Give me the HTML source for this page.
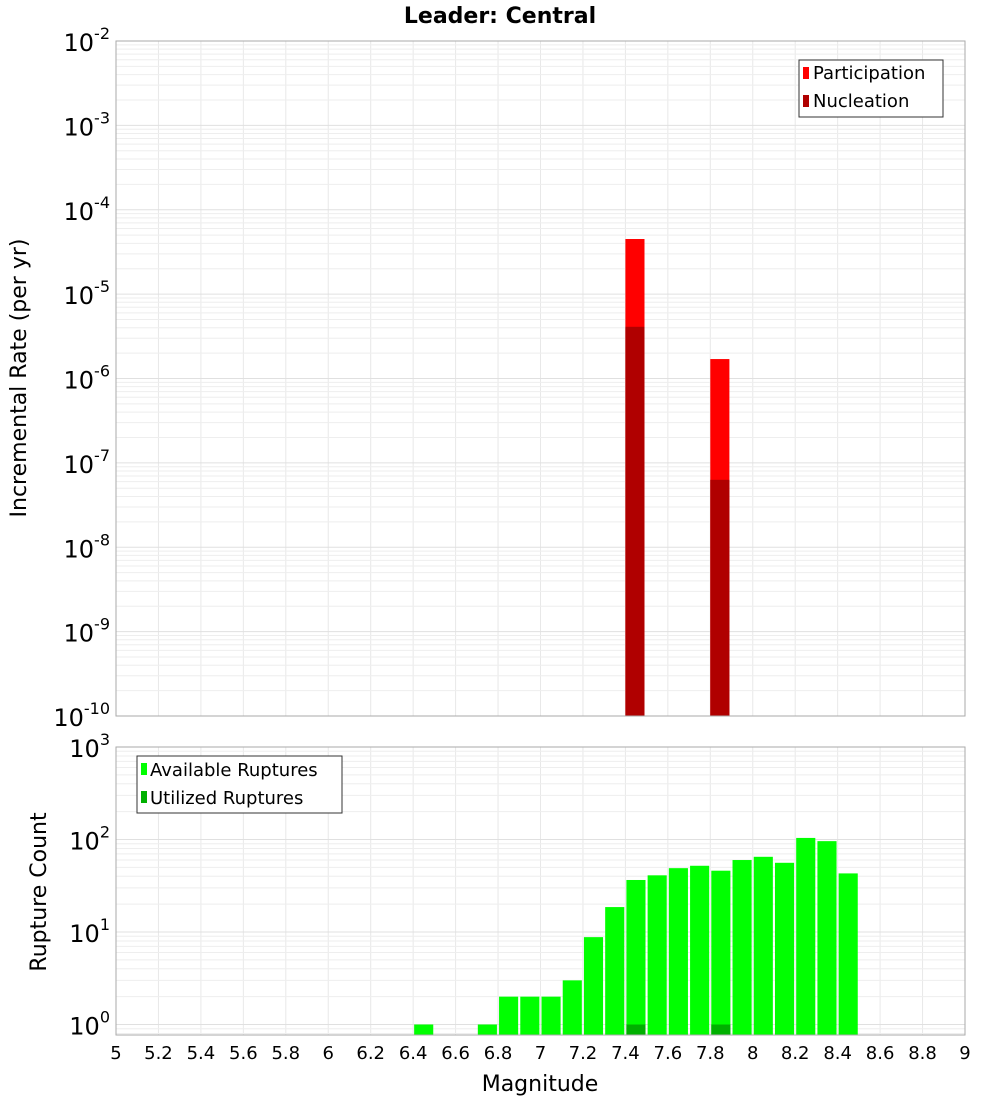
<!DOCTYPE html>
<html><head><meta charset="utf-8"><style>
body{margin:0;background:#fff;}
svg text{font-family:"DejaVu Sans","Liberation Sans",sans-serif;}
</style></head><body>
<svg id="c" width="1000" height="1100" xmlns="http://www.w3.org/2000/svg"></svg>
<script>
const binStarts=[6.4,6.7,6.8,6.9,7.0,7.1,7.2,7.3,7.4,7.5,7.6,7.7,7.8,7.9,8.0,8.1,8.2,8.3,8.4];
const available=[1,1,2,2,2,3,8.8,18.6,36.5,41,49,52,46,60,65,56,104,96,43];
const utilizedBins=[7.4,7.8];
const utilized=[1,1];
const rateBins=[7.4,7.8];
const participation=[4.5e-5,1.7e-6];
const nucleation=[4.1e-6,6.3e-8];
const xTicks=[5,5.2,5.4,5.6,5.8,6,6.2,6.4,6.6,6.8,7,7.2,7.4,7.6,7.8,8,8.2,8.4,8.6,8.8,9];
const topExp=[-2,-3,-4,-5,-6,-7,-8,-9,-10];
const botExp=[3,2,1,0];

const svg=document.getElementById('c');const NS='http://www.w3.org/2000/svg';
function el(t,a,p){const e=document.createElementNS(NS,t);for(const k in a)e.setAttribute(k,a[k]);(p||svg).appendChild(e);return e;}
const L=116,R=965;
const X=v=>L+(v-5)/4*(R-L);
const T0=41,T1=716;const YT=v=>T0+(-2-Math.log10(v))/8*(T1-T0);
const B0=747,B1=1035;const dec=92.5;const YB=v=>B0+(3-Math.log10(v))*dec;

function grid(y0,y1,emax,emin,Y){
  const g=el('g',{});
  
  for(let x=5;x<=9.001;x+=0.2){el('line',{x1:X(x),x2:X(x),y1:y0,y2:y1,stroke:'#e8e8e8'},g);}
  for(let e=emin-1;e<=emax;e++)for(let m=1;m<10;m++){const v=m*Math.pow(10,e);const y=Y(v);if(y<y0-0.5||y>y1+0.5)continue;el('line',{x1:L,x2:R,y1:y,y2:y,stroke:m==1?'#e0e0e0':'#eeeeee'},g);}
}
// title
let t=el('text',{x:500,y:23,'text-anchor':'middle','font-size':22,'font-weight':'bold'});t.textContent='Leader: Central';


// TOP
grid(T0,T1,-2,-10,YT);
rateBins.forEach((b,i)=>{
  let r=el('rect',{x:X(b),y:YT(participation[i]),width:X(b+0.09)-X(b),height:T1-YT(participation[i]),fill:'#ff0000'});
  
  r=el('rect',{x:X(b),y:YT(nucleation[i]),width:X(b+0.09)-X(b),height:T1-YT(nucleation[i]),fill:'#b00000'});
  
});
el('rect',{x:L,y:T0,width:R-L,height:T1-T0,fill:'none',stroke:'#aaa'});
topExp.forEach(e=>{const y=YT(Math.pow(10,e));const tx=el('text',{x:110,y:y+10,'text-anchor':'end','font-size':24});
  tx.innerHTML='10<tspan dy="-12" font-size="16">'+e+'</tspan>';});
t=el('text',{x:26,y:378,'text-anchor':'middle','font-size':22,transform:'rotate(-90 26 378)'});t.textContent='Incremental Rate (per yr)';

let lg=el('g',{});
el('rect',{x:799,y:60,width:144,height:57,fill:'#fff',stroke:'#333'},lg);
el('rect',{x:803,y:67,width:6,height:12,fill:'#ff0000'},lg);
el('rect',{x:803,y:95,width:6,height:12,fill:'#b00000'},lg);
t=el('text',{x:813,y:79,'font-size':18},lg);t.textContent='Participation';
t=el('text',{x:813,y:107,'font-size':18},lg);t.textContent='Nucleation';

// BOTTOM
grid(B0,B1,3,-1,YB);
binStarts.forEach((b,i)=>{const y=YB(available[i]);
  const r=el('rect',{x:X(b)+1,y:y,width:X(b+0.09)-X(b),height:B1-y,fill:'#00ff00'});
  });
utilizedBins.forEach((b,i)=>{const y=YB(utilized[i]);
  const r=el('rect',{x:X(b)+1,y:y,width:X(b+0.09)-X(b),height:B1-y,fill:'#00b000'});
  });
el('rect',{x:L,y:B0,width:R-L,height:B1-B0,fill:'none',stroke:'#aaa'});
botExp.forEach(e=>{const y=YB(Math.pow(10,e));const tx=el('text',{x:110,y:y+10,'text-anchor':'end','font-size':24});
  tx.innerHTML='10<tspan dy="-12" font-size="16">'+e+'</tspan>';});
t=el('text',{x:46,y:892,'text-anchor':'middle','font-size':22,transform:'rotate(-90 46 892)'});t.textContent='Rupture Count';

lg=el('g',{});
el('rect',{x:137,y:756,width:205,height:57,fill:'#fff',stroke:'#333'},lg);
el('rect',{x:141,y:763,width:6,height:12,fill:'#00ff00'},lg);
el('rect',{x:141,y:791,width:6,height:12,fill:'#00b000'},lg);
t=el('text',{x:150,y:776,'font-size':18},lg);t.textContent='Available Ruptures';
t=el('text',{x:150,y:804,'font-size':18},lg);t.textContent='Utilized Ruptures';

xTicks.forEach(v=>{const tx=el('text',{x:X(v),y:1059,'text-anchor':'middle','font-size':18});tx.textContent=String(Math.round(v*10)/10);
  });
t=el('text',{x:540,y:1091,'text-anchor':'middle','font-size':22});t.textContent='Magnitude';

</script>
</body></html>
